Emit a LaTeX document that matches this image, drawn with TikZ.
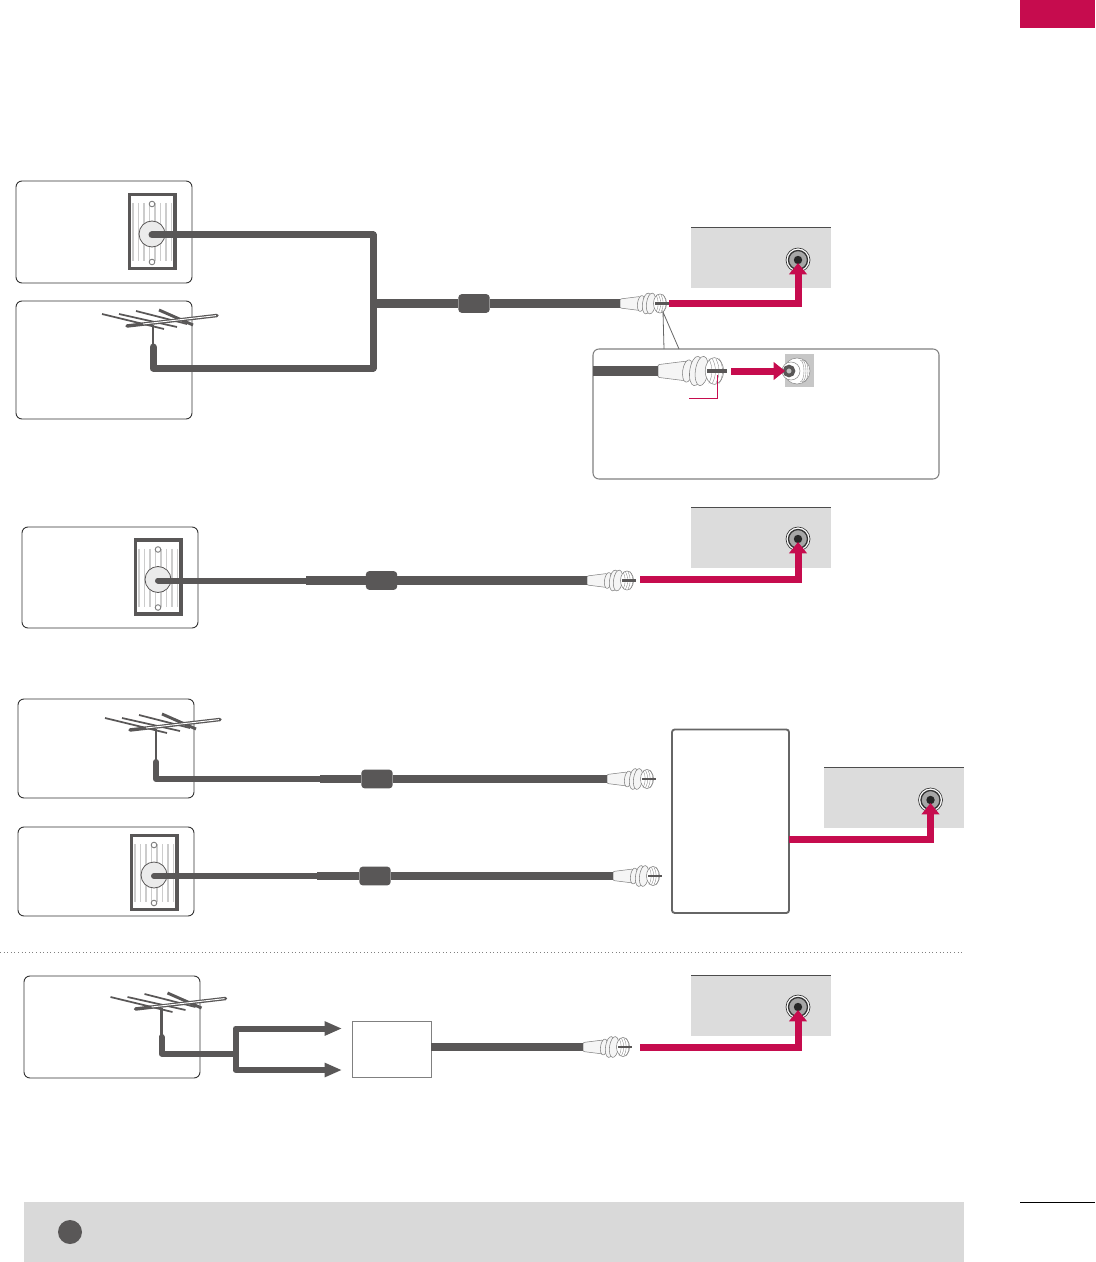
\documentclass[tikz,border=0pt]{standalone}
\usepackage{xcolor}
\usetikzlibrary{arrows.meta,positioning,shapes.geometric}
\definecolor{cablegray}{HTML}{595757}
\definecolor{jackred}{HTML}{C60C4E}
\definecolor{panelgray}{HTML}{DCDCDC}
\definecolor{stripegray}{HTML}{CCCCCC}
\tikzset{
  pinwidth/.store in=\pinw,
  pinwidth=1.9pt,
  srcbox/.style={draw=black!80,line width=0.7pt,rounded corners=4.5pt,anchor=north west,inner sep=0pt,outer sep=0pt,minimum width=132pt},
  panel/.style={fill=panelgray,anchor=north west,inner sep=0pt,outer sep=0pt,minimum width=105pt,minimum height=45.5pt},
  ferrite/.style={fill=cablegray,rounded corners=2.5pt,inner sep=0pt,minimum width=23.5pt,minimum height=14pt},
  feedline/.style={draw=cablegray,line width=6.5pt,line join=round},
  thinfeed/.style={draw=cablegray,line width=4.5pt,line cap=round,line join=round},
  redfeed/.style={draw=jackred,line width=5.25pt,-{Triangle[length=8.5pt,width=13pt]}},
  forkfeed/.style={draw=cablegray,line width=4.5pt,line join=round,-{Triangle[length=13pt,width=10pt]}},
  platepic/.pic={
    \foreach \sx in {-19,-13.5,...,20}
      \draw[stripegray,line width=1.1pt] (\sx,-31) -- (\sx,27);
    \draw[cablegray,line width=2.4pt] (-22.5,-39.5) rectangle (23,34.5);
    \draw[gray,fill=white,line width=0.7pt] (0,-30) circle[radius=2.8];
    \draw[gray,fill=white,line width=0.7pt] (0,28) circle[radius=2.8];
    \draw[cablegray,fill=black!8,line width=0.6pt] (0,0) circle[radius=13];
    \coordinate (-port) at (0,1);
  },
  aerialpic/.pic={
    \draw[cablegray,line width=1.3pt] (-51,-12) -- (11,3);
    \draw[cablegray,line width=1.3pt] (-34,-12) -- (24,1);
    \draw[cablegray,line width=1.3pt] (-17,-15) -- (34,-2);
    \draw[cablegray,line width=2.2pt] (6,-16) -- (40,-1);
    \draw[cablegray,line width=2.6pt,line cap=round] (-26,0) -- (64,-10.5);
    \draw[white,line width=0.7pt] (-10,-2) -- (63,-10.4);
    \draw[cablegray,line width=2.2pt] (0,-1) -- (0,34);
  },
  plugpic/.pic={
    \draw[black!50,fill=black!4,line width=0.4pt,rounded corners=0.8pt] (0,-4.5) -- (20,-7) -- (20,7) -- (0,4.5) -- cycle;
    \draw[black!50,fill=black!4,line width=0.4pt] (21,0) circle[x radius=3.5,y radius=8,rotate=-8];
    \draw[black!50,fill=black!4,line width=0.4pt] (27,0) circle[x radius=4.5,y radius=10.5,rotate=-8];
    \draw[black!50,fill=black!4,line width=0.4pt] (31,0) circle[x radius=4.5,y radius=10.5,rotate=-8];
    \draw[black!50,fill=white,line width=0.4pt] (40,0) circle[x radius=6.5,y radius=9.5];
    \foreach \tx in {36,38.5,41,43.5}
      \draw[black!50,line width=0.25pt] (\tx,-8.8) .. controls (\tx+3,-3) and (\tx+3,3) .. (\tx,8.8);
    \draw[cablegray,line width=\pinw] (35,0) -- (49,0);
    \coordinate (-tail) at (0,0);
  },
  jackpic/.pic={
    \draw[black!80,fill=white,line width=0.5pt] (0,0) circle[radius=12];
    \draw[black!80,fill=black!35,line width=1pt] (0,0) circle[radius=9.5];
    \fill[black!85] (0,0) circle[radius=4.2];
    \coordinate (-tip) at (0,3);
  },
}
\begin{document}
\begin{tikzpicture}[x=0.75pt,y=-0.75pt]
  \useasboundingbox (0,0) rectangle (1095,1262);
  \node[fill=jackred,anchor=north west,inner sep=0pt,outer sep=0pt,minimum width=56.25pt,minimum height=21pt] (tab) at (1020,0) {};
  \coordinate (ruleL) at (1020,1202);
  \coordinate (ruleR) at (1095,1202);
  \draw[line width=0.5pt] (ruleL) -- (ruleR);
  \node[fill=black!15,anchor=north west,inner sep=0pt,outer sep=0pt,minimum width=705pt,minimum height=45pt] (notebar) at (24,1202) {};
  \node[circle,fill=cablegray,inner sep=0pt,minimum size=18pt] (notedot) at (70,1232) {};
  \coordinate (sepL) at (0,952);
  \coordinate (sepR) at (962,952);
  \draw[gray,dotted,line width=0.7pt] (sepL) -- (sepR);

  % source boxes
  \node[srcbox,minimum height=76.5pt] (boxA) at (16,181) {};
  \node[srcbox,minimum height=88.5pt] (boxB) at (16,301) {};
  \node[srcbox,minimum height=75.75pt] (boxC) at (22,527) {};
  \node[srcbox,minimum height=74.25pt] (boxD) at (18,699) {};
  \node[srcbox,minimum height=66.75pt] (boxE) at (18,827) {};
  \node[srcbox,minimum height=76.5pt] (boxF) at (24,976) {};

  % tv panels
  \node[panel] (panelA) at (691,227) {};
  \node[panel] (panelB) at (691,507) {};
  \node[panel] (panelC) at (824,767) {};
  \node[panel] (panelD) at (691,975) {};
  \foreach \p in {panelA,panelB,panelC,panelD}
    \draw[black!70,line width=0.6pt] (\p.north west) -- (\p.north east);
  \pic (jackA) at (798,260) {jackpic};
  \pic (jackB) at (798,539) {jackpic};
  \pic (jackC) at (930.5,800) {jackpic};
  \pic (jackD) at (798,1007) {jackpic};

  % other boxes
  \node[draw=black!60,line width=1.4pt,rounded corners=2pt,anchor=north west,inner sep=0pt,outer sep=0pt,minimum width=87.75pt,minimum height=137.6pt] (tuner) at (672,729.5) {};
  \node[draw=black!50,line width=0.7pt,anchor=north west,inner sep=0pt,outer sep=0pt,minimum width=59.25pt,minimum height=42pt] (splitter) at (352,1021) {};
  \node[draw=black!50,line width=0.8pt,rounded corners=4.5pt,anchor=north west,inner sep=0pt,outer sep=0pt,minimum width=259.5pt,minimum height=97.5pt] (detail) at (593,349) {};

  \pic (plateA) at (152,234) {platepic};
  \pic (plateB) at (158,579.5) {platepic};
  \pic (plateC) at (154,875) {platepic};
  \pic (aerialA) at (153,326) {aerialpic};
  \pic (aerialB) at (156,730) {aerialpic};
  \pic (aerialC) at (161.5,1009) {aerialpic};

  % first pair of sources
  \node[ferrite] (ferA) at (474,303.5) {};
  \coordinate (joinA) at (373,303.5);
  \coordinate (turnA) at (373,235);
  \coordinate (turnB) at (373,368);
  \coordinate (footB) at (153,368);
  \coordinate (stemA) at (153,347);
  \draw[feedline,line width=5.25pt,line cap=round] (plateA-port) -- (turnA) -- (turnB) -- (footB) -- (stemA);
  \pic (plugA) at (620,303.5) {plugpic};
  \draw[feedline] (joinA) -- (ferA) -- (plugA-tail);
  \coordinate (redA) at (669,303.5);
  \draw[redfeed] (redA) -| (jackA-tip);

  % detail box
  \coordinate (leadTop) at (663,312);
  \coordinate (leadL) at (664,349);
  \coordinate (leadR) at (679,349);
  \draw[black!60,line width=0.6pt] (leadL) -- (leadTop) -- (leadR);
  \coordinate (tailD) at (593,371);
  \pic[scale=1.41,pinwidth=3pt] (plugD) at (658,371) {plugpic};
  \draw[feedline,line width=7pt] (tailD) -- (plugD-tail);
  \node[fill=black!22,inner sep=0pt,outer sep=0pt,minimum width=21.75pt,minimum height=24.75pt,anchor=north west] (sockSq) at (785,354) {};
  \draw[black!45,fill=white,line width=0.4pt] (797,371) circle[radius=13];
  \foreach \sr in {2,4,6}
    \draw[black!45,line width=0.3pt] (798+\sr,360) arc[start angle=-90,end angle=90,x radius=4,y radius=11];
  \draw[black!45,fill=white,line width=0.4pt] (791,371) circle[radius=9];
  \draw[cablegray,fill=black!25,line width=2.6pt] (789,371) circle[radius=4.5];
  \coordinate (redDs) at (731,371);
  \coordinate (redDe) at (785,371);
  \draw[redfeed] (redDs) -- (redDe);
  \coordinate (markA) at (689,398);
  \coordinate (markB) at (717,398);
  \coordinate (markC) at (717,375);
  \draw[jackred,line width=0.7pt] (markA) -- (markB) -- (markC);

  % wall to tv
  \coordinate (stepB) at (306,580.5);
  \node[ferrite] (ferB) at (381.5,580.5) {};
  \draw[thinfeed] (plateB-port) -- (stepB);
  \pic (plugB) at (587,580.5) {plugpic};
  \draw[feedline] (stepB) -- (ferB) -- (plugB-tail);
  \coordinate (redB) at (640,579.5);
  \draw[redfeed] (redB) -| (jackB-tip);

  % both into tuner
  \coordinate (stemB) at (156,762);
  \coordinate (turnC) at (156,779);
  \coordinate (stepC) at (320,779);
  \node[ferrite] (ferC) at (377,779) {};
  \pic (plugC) at (607,779) {plugpic};
  \draw[thinfeed] (stemB) -- (turnC) -- (stepC);
  \draw[feedline] (stepC) -- (ferC) -- (plugC-tail);
  \coordinate (stepE) at (317,876);
  \node[ferrite] (ferE) at (375,876) {};
  \pic (plugE) at (613,876) {plugpic};
  \draw[thinfeed] (plateC-port) -- (stepE);
  \draw[feedline] (stepE) -- (ferE) -- (plugE-tail);
  \coordinate (redC) at (789,839.5);
  \draw[redfeed] (redC) -| (jackC-tip);

  % aerial through splitter
  \coordinate (stemF) at (161.5,1037);
  \coordinate (turnF) at (161.5,1053.5);
  \coordinate (forkF) at (235.5,1053.5);
  \coordinate (forkT) at (235.5,1028.5);
  \coordinate (forkB) at (235.5,1070);
  \coordinate (inT) at (342,1028.5);
  \coordinate (inB) at (342,1070);
  \draw[feedline,line width=4.5pt,line cap=round] (stemF) -- (turnF) -- (forkF);
  \draw[forkfeed] (forkF) -- (forkT) -- (inT);
  \draw[forkfeed] (forkF) -- (forkB) -- (inB);
  \pic (plugF) at (583,1047) {plugpic};
  \coordinate (outF) at (431,1047);
  \draw[feedline] (outF) -- (plugF-tail);
  \coordinate (redF) at (640,1047.5);
  \draw[redfeed] (redF) -| (jackD-tip);
\end{tikzpicture}
\end{document}
